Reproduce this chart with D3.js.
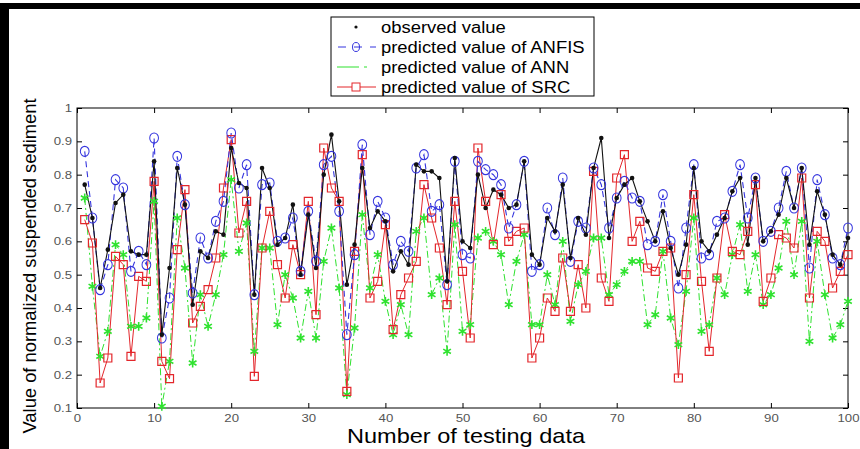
<!DOCTYPE html>
<html>
<head>
<meta charset="utf-8">
<script src="https://cdn.jsdelivr.net/npm/d3@7"></script>
<style>
  body { margin: 0; background: #fff; }
  svg { display: block; font-family: "Liberation Sans", Arial, sans-serif; }
</style>
</head>
<body>
<svg id="chart" width="860" height="449"></svg>
<script>
// testing data index 1..100
const samples = d3.range(1, 101);

const observed = [
  0.77, 0.67, 0.46, 0.575, 0.715, 0.74, 0.57, 0.56, 0.56, 0.84,
  0.32, 0.52, 0.82, 0.71, 0.41, 0.57, 0.55, 0.63, 0.62, 0.88,
  0.775, 0.76, 0.44, 0.82, 0.76, 0.59, 0.61, 0.71, 0.50, 0.68,
  0.52, 0.80, 0.92, 0.72, 0.47, 0.59, 0.82, 0.64, 0.69, 0.66,
  0.51, 0.57, 0.53, 0.83, 0.81, 0.81, 0.79, 0.48, 0.85, 0.60,
  0.58, 0.80, 0.70, 0.755, 0.74, 0.70, 0.71, 0.84, 0.56, 0.53,
  0.67, 0.63, 0.77, 0.55, 0.67, 0.62, 0.82, 0.91, 0.61, 0.73,
  0.77, 0.79, 0.72, 0.66, 0.60, 0.69, 0.58, 0.50, 0.59, 0.82,
  0.60, 0.57, 0.62, 0.67, 0.75, 0.79, 0.59, 0.79, 0.60, 0.63,
  0.68, 0.79, 0.70, 0.82, 0.59, 0.75, 0.68, 0.56, 0.53, 0.61
];

const anfis = [
  0.87, 0.67, 0.455, 0.53, 0.785, 0.76, 0.51, 0.57, 0.53, 0.91,
  0.31, 0.43, 0.855, 0.71, 0.445, 0.61, 0.55, 0.66, 0.72, 0.925,
  0.76, 0.83, 0.44, 0.77, 0.775, 0.60, 0.61, 0.67, 0.51, 0.69,
  0.54, 0.83, 0.855, 0.69, 0.32, 0.56, 0.89, 0.62, 0.72, 0.67,
  0.53, 0.60, 0.57, 0.82, 0.86, 0.69, 0.71, 0.47, 0.84, 0.56,
  0.55, 0.84, 0.815, 0.80, 0.77, 0.64, 0.71, 0.84, 0.51, 0.53,
  0.70, 0.62, 0.79, 0.54, 0.66, 0.64, 0.82, 0.77, 0.64, 0.73,
  0.78, 0.73, 0.72, 0.59, 0.60, 0.74, 0.60, 0.46, 0.64, 0.83,
  0.55, 0.56, 0.66, 0.67, 0.75, 0.83, 0.67, 0.79, 0.60, 0.63,
  0.70, 0.81, 0.70, 0.82, 0.52, 0.785, 0.68, 0.55, 0.53, 0.64
];

const ann = [
  0.73, 0.465, 0.255, 0.33, 0.59, 0.56, 0.345, 0.345, 0.37, 0.72,
  0.105, 0.24, 0.67, 0.52, 0.235, 0.44, 0.345, 0.44, 0.56, 0.785,
  0.57, 0.655, 0.27, 0.58, 0.58, 0.35, 0.50, 0.43, 0.31, 0.45,
  0.31, 0.54, 0.64, 0.46, 0.14, 0.34, 0.68, 0.46, 0.56, 0.42,
  0.32, 0.41, 0.32, 0.63, 0.67, 0.44, 0.49, 0.27, 0.65, 0.33,
  0.35, 0.61, 0.63, 0.60, 0.56, 0.41, 0.54, 0.62, 0.35, 0.35,
  0.50, 0.41, 0.60, 0.36, 0.47, 0.51, 0.61, 0.61, 0.44, 0.47,
  0.51, 0.54, 0.54, 0.35, 0.38, 0.57, 0.37, 0.29, 0.45, 0.67,
  0.33, 0.35, 0.49, 0.44, 0.56, 0.65, 0.45, 0.56, 0.41, 0.44,
  0.52, 0.66, 0.50, 0.66, 0.30, 0.60, 0.44, 0.31, 0.35, 0.42
];

const src = [
  0.665, 0.595, 0.175, 0.25, 0.555, 0.53, 0.255, 0.495, 0.48, 0.78,
  0.24, 0.188, 0.575, 0.755, 0.355, 0.405, 0.455, 0.55, 0.76, 0.905,
  0.625, 0.72, 0.195, 0.58, 0.69, 0.53, 0.43, 0.59, 0.50, 0.72,
  0.38, 0.88, 0.76, 0.72, 0.15, 0.57, 0.86, 0.43, 0.48, 0.65,
  0.335, 0.44, 0.49, 0.54, 0.77, 0.67, 0.58, 0.41, 0.72, 0.51,
  0.31, 0.88, 0.72, 0.59, 0.74, 0.60, 0.63, 0.64, 0.25, 0.31,
  0.43, 0.39, 0.55, 0.39, 0.53, 0.40, 0.81, 0.49, 0.42, 0.79,
  0.86, 0.60, 0.66, 0.52, 0.51, 0.57, 0.58, 0.19, 0.50, 0.74,
  0.48, 0.27, 0.49, 0.68, 0.57, 0.56, 0.63, 0.77, 0.42, 0.49,
  0.62, 0.61, 0.58, 0.79, 0.43, 0.63, 0.60, 0.46, 0.51, 0.56
];

const xTicks = d3.range(0, 101, 10);
const yTicks = d3.range(1, 11).map(d => d / 10);
const legendLabels = [
  'observed value',
  'predicted value of ANFIS',
  'predicted value of ANN',
  'predicted value of SRC'
];

const colors = { obs: '#111', anfis: '#3535de', ann: '#2fe22f', src: '#e3262b' };

const svg = d3.select('#chart');
const x = d3.scaleLinear().domain([0, 100]).range([77, 848]);
const y = d3.scaleLinear().domain([0.1, 1]).range([408, 108]);

// the old scan is stretched sideways, so text is widened a bit
function widen(sel, k) {
  sel.each(function() {
    const w = this.getComputedTextLength();
    d3.select(this).attr('textLength', w * k).attr('lengthAdjust', 'spacingAndGlyphs');
  });
}

// black scan border (top and left)
svg.append('rect').attr('x', 0).attr('y', 3).attr('width', 860).attr('height', 6).attr('fill', '#000');
svg.append('rect').attr('x', 0).attr('y', 3).attr('width', 9).attr('height', 446).attr('fill', '#000');

// axes, MATLAB style: ticks inside, box on
const gx = svg.append('g')
  .attr('transform', `translate(0, ${y(0.1)})`)
  .call(d3.axisBottom(x).tickValues(xTicks).tickSizeInner(-5).tickSizeOuter(0).tickPadding(6));
const gy = svg.append('g')
  .attr('transform', `translate(${x(0)}, 0)`)
  .call(d3.axisLeft(y).tickValues(yTicks).tickSizeInner(-5).tickSizeOuter(0).tickPadding(5)
    .tickFormat(d => d === 1 ? '1' : d3.format('.1f')(d)));
svg.append('g')
  .attr('transform', `translate(0, ${y(1)})`)
  .call(d3.axisTop(x).tickValues(xTicks).tickSizeInner(-5).tickSizeOuter(0).tickFormat(''));
svg.append('g')
  .attr('transform', `translate(${x(100)}, 0)`)
  .call(d3.axisRight(y).tickValues(yTicks).tickSizeInner(-5).tickSizeOuter(0).tickFormat(''));
svg.selectAll('.domain').remove();
svg.selectAll('.tick line').attr('stroke', '#000');
svg.selectAll('.tick text')
  .attr('fill', '#555')
  .style('font-size', '11px')
  .style('font-family', '"Liberation Sans", Arial, sans-serif');
widen(gx.selectAll('.tick text'), 1.2);
widen(gy.selectAll('.tick text'), 1.2);

svg.append('rect')
  .attr('x', x(0)).attr('y', y(1))
  .attr('width', x(100) - x(0)).attr('height', y(0.1) - y(1))
  .attr('fill', 'none').attr('stroke', '#000').attr('stroke-width', 1);

// series lines
const plot = svg.append('g');
function series(values) { return samples.map((s, i) => [s, values[i]]); }
const line = d3.line().x(d => x(d[0])).y(d => y(d[1]));

plot.append('path').datum(series(ann))
  .attr('d', line).attr('fill', 'none')
  .attr('stroke', colors.ann).attr('stroke-width', 1).attr('stroke-dasharray', '7,3,2,3');
plot.append('path').datum(series(src))
  .attr('d', line).attr('fill', 'none')
  .attr('stroke', colors.src).attr('stroke-width', 1);
plot.append('path').datum(series(anfis))
  .attr('d', line).attr('fill', 'none')
  .attr('stroke', colors.anfis).attr('stroke-width', 1.1).attr('stroke-dasharray', '6,4');
plot.append('path').datum(series(observed))
  .attr('d', line).attr('fill', 'none')
  .attr('stroke', colors.obs).attr('stroke-width', 1.1);

// markers
plot.selectAll('.ann-mark').data(series(ann)).enter().append('path')
  .attr('class', 'ann-mark')
  .attr('transform', d => `translate(${x(d[0])}, ${y(d[1])})`)
  .attr('d', d3.symbol(d3.symbolAsterisk, 55))
  .attr('fill', 'none').attr('stroke', colors.ann).attr('stroke-width', 1.6);
plot.selectAll('.src-mark').data(series(src)).enter().append('path')
  .attr('class', 'src-mark')
  .attr('transform', d => `translate(${x(d[0])}, ${y(d[1])})`)
  .attr('d', d3.symbol(d3.symbolSquare, 64))
  .attr('fill', 'none').attr('stroke', colors.src).attr('stroke-width', 1.2);
plot.selectAll('.anfis-mark').data(series(anfis)).enter().append('path')
  .attr('class', 'anfis-mark')
  .attr('transform', d => `translate(${x(d[0])}, ${y(d[1])}) scale(1, 1.15)`)
  .attr('d', d3.symbol(d3.symbolCircle, 60))
  .attr('fill', 'none').attr('stroke', colors.anfis).attr('stroke-width', 1);
plot.selectAll('.obs-mark').data(series(observed)).enter().append('circle')
  .attr('class', 'obs-mark')
  .attr('cx', d => x(d[0])).attr('cy', d => y(d[1]))
  .attr('r', 2.3).attr('fill', colors.obs);

// legend
const legend = svg.append('g');
legend.append('rect')
  .attr('x', 331).attr('y', 17).attr('width', 263).attr('height', 79)
  .attr('fill', '#fff').attr('stroke', '#000').attr('stroke-width', 1);
const rowY = i => 27 + i * 20;
const rows = legend.selectAll('.row').data(legendLabels).enter().append('g')
  .attr('class', 'row')
  .attr('transform', (d, i) => `translate(0, ${rowY(i)})`);
const legendText = rows.append('text')
  .attr('x', 381).attr('y', 0).attr('dy', '0.35em')
  .style('font-size', '16px')
  .attr('fill', '#000')
  .text(d => d);
widen(legendText, 1.15);

legend.append('circle').attr('cx', 356).attr('cy', rowY(0)).attr('r', 1.6).attr('fill', colors.obs);
legend.append('line').attr('x1', 337).attr('x2', 376).attr('y1', rowY(1)).attr('y2', rowY(1))
  .attr('stroke', colors.anfis).attr('stroke-dasharray', '8,8').attr('stroke-dashoffset', -1);
legend.append('ellipse').attr('cx', 356).attr('cy', rowY(1)).attr('rx', 3.5).attr('ry', 4.5)
  .attr('fill', 'none').attr('stroke', colors.anfis);
legend.append('line').attr('x1', 337).attr('x2', 378).attr('y1', rowY(2)).attr('y2', rowY(2))
  .attr('stroke', colors.ann).attr('stroke-width', 1.2).attr('stroke-dasharray', '22,5,3,20');
legend.append('line').attr('x1', 337).attr('x2', 376).attr('y1', rowY(3)).attr('y2', rowY(3))
  .attr('stroke', colors.src);
legend.append('rect').attr('x', 352).attr('y', rowY(3) - 4).attr('width', 8).attr('height', 8)
  .attr('fill', '#fff').attr('stroke', colors.src);

// axis titles
const xTitle = svg.append('text')
  .attr('x', 466).attr('y', 443)
  .attr('text-anchor', 'middle')
  .style('font-size', '21px')
  .text('Number of testing data');
xTitle.attr('textLength', 238).attr('lengthAdjust', 'spacingAndGlyphs');
const yTitle = svg.append('text')
  .attr('transform', 'translate(36, 266) rotate(-90)')
  .attr('text-anchor', 'middle')
  .style('font-size', '18px')
  .text('Value of normalized suspended sediment');
yTitle.attr('textLength', 335).attr('lengthAdjust', 'spacingAndGlyphs');
</script>
</body>
</html>
